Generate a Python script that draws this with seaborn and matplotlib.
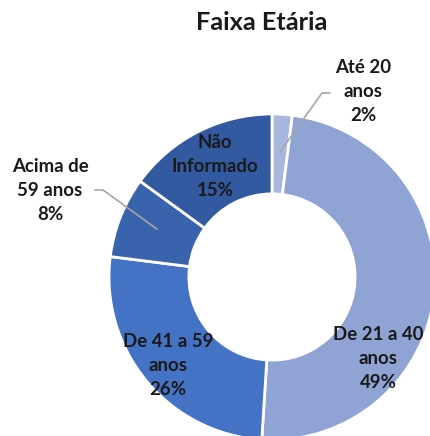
import matplotlib
matplotlib.use("Agg")
import matplotlib.pyplot as plt
import seaborn as sns

# data
categories = ["Até 20 anos", "De 21 a 40 anos", "De 41 a 59 anos",
              "Acima de 59 anos", "Não Informado"]
percentages = [2, 49, 26, 8, 15]
label_texts = ["Até 20\nanos", "De 21 a 40\nanos", "De 41 a 59\nanos",
               "Acima de\n59 anos", "Não\nInformado"]
colors = ["#a9b7de", "#8fa3d5", "#4472c4", "#3a63ad", "#335aa0"]

# label placement (data coords, outer radius = 1)
label_pos = [(0.558, 1.135), (0.65, -0.497), (-0.638, -0.546),
             (-1.362, 0.528), (-0.35, 0.675)]
leaders = {0: [(0.049, 0.767), (0.307, 1.129), (0.356, 1.129)],
           3: [(-0.706, 0.294), (-1.037, 0.534), (-1.086, 0.534)]}

sns.set_theme(style="white")
plt.rcParams['font.family'] = ['Lato', 'DejaVu Sans']

fig = plt.figure(figsize=(4.30, 4.36), dpi=100)
ax = fig.add_axes([109 / 430, -4 / 436, 326 / 430, 326 / 436])

wedges, _ = ax.pie(percentages, colors=colors, startangle=90, counterclock=False,
                   radius=1, wedgeprops=dict(width=0.49, edgecolor='white', linewidth=2))
ax.set_xlim(-1, 1)
ax.set_ylim(-1, 1)
ax.set_aspect('equal')
ax.axis('off')

for i, (txt, pct) in enumerate(zip(label_texts, percentages)):
    x, y = label_pos[i]
    ax.text(x, y, f"{txt}\n{pct}%", ha='center', va='center', fontsize=13.4,
            fontweight='bold', color='#1a1a1a', linespacing=1.5, clip_on=False)
    if i in leaders:
        xs, ys = zip(*leaders[i])
        ax.plot(xs, ys, color='#a6a6a6', lw=1.2, clip_on=False)

fig.text(262 / 430, 1 - 23 / 436, "Faixa Etária", ha='center', va='center',
         fontsize=18.3, fontweight='bold', color='#1a1a1a')

fig.savefig("out.png", dpi=100, facecolor='white')
